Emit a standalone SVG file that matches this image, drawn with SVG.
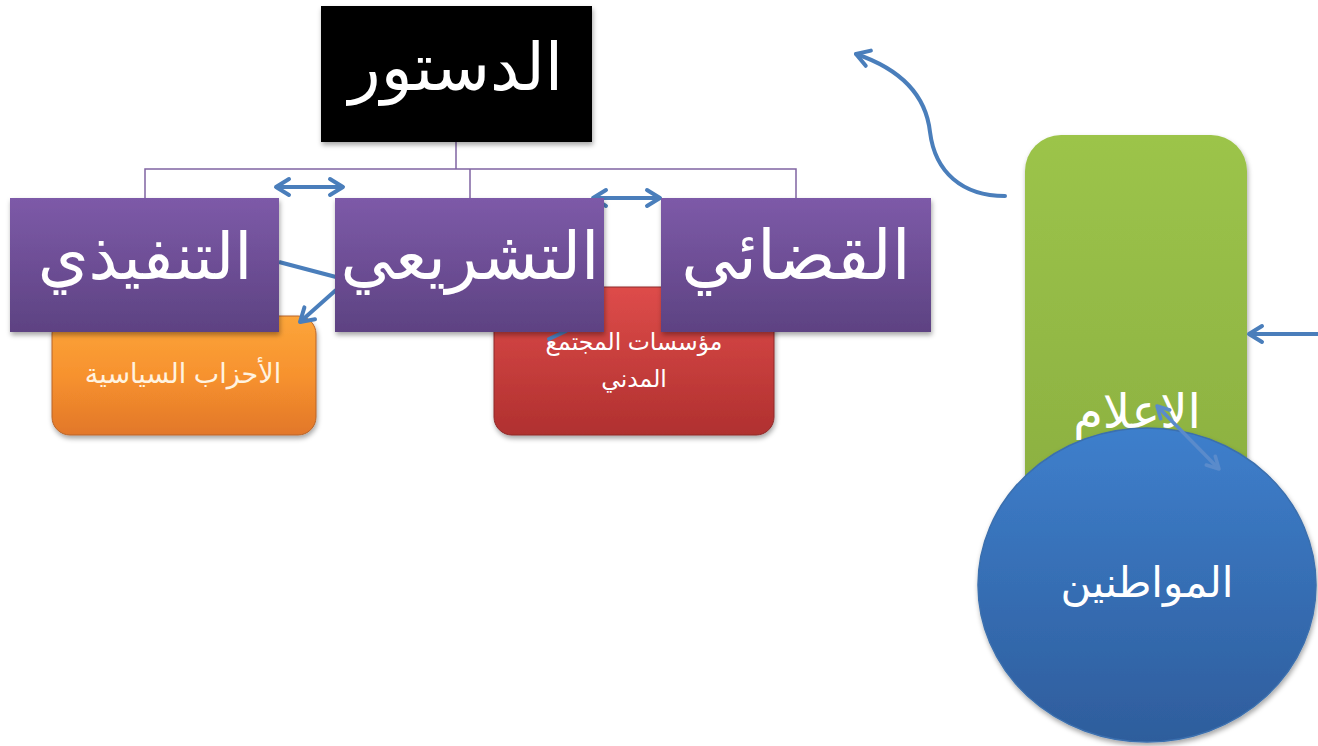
<svg xmlns="http://www.w3.org/2000/svg" width="1318" height="746" viewBox="0 0 1318 746">
<defs>
<linearGradient id="gPurple" x1="0" y1="0" x2="0" y2="1"><stop offset="0" stop-color="#7d5aa8"/><stop offset="1" stop-color="#5d4282"/></linearGradient>
<linearGradient id="gOrange" x1="0" y1="0" x2="0" y2="1"><stop offset="0" stop-color="#fca53a"/><stop offset="0.5" stop-color="#f7922e"/><stop offset="1" stop-color="#e2772a"/></linearGradient>
<linearGradient id="gRed" x1="0" y1="0" x2="0" y2="1"><stop offset="0" stop-color="#de4c4a"/><stop offset="1" stop-color="#b0302f"/></linearGradient>
<linearGradient id="gGreen" x1="0" y1="0" x2="0" y2="1"><stop offset="0" stop-color="#9cc44a"/><stop offset="1" stop-color="#8aae40"/></linearGradient>
<linearGradient id="gBlue" x1="0" y1="0" x2="0" y2="1"><stop offset="0" stop-color="#3e7fcc"/><stop offset="1" stop-color="#2e5d9c"/></linearGradient>
<filter id="sh" x="-10%" y="-10%" width="125%" height="130%"><feDropShadow dx="1" dy="3" stdDeviation="2.5" flood-color="#000" flood-opacity="0.35"/></filter>
<marker id="ah" viewBox="0 0 20 20" refX="17" refY="10" markerWidth="20" markerHeight="20" markerUnits="userSpaceOnUse" orient="auto-start-reverse" overflow="visible">
<path d="M4,2 L17,10 L4,18" fill="none" stroke="#4a7ebb" stroke-width="4" stroke-linecap="round" stroke-linejoin="round"/>
</marker>
<marker id="ahs" viewBox="0 0 20 20" refX="17" refY="10" markerWidth="18" markerHeight="18" markerUnits="userSpaceOnUse" orient="auto-start-reverse" overflow="visible">
<path d="M4,3 L17,10 L4,17" fill="none" stroke="#5a8bcb" stroke-width="4" stroke-linecap="round" stroke-linejoin="round"/>
</marker>
<style>
.tree{fill:none;stroke:#8064a2;stroke-width:1.5}
.arr{fill:none;stroke:#4a7ebb;stroke-width:4}
.big{font-family:"Liberation Sans","DejaVu Sans",sans-serif;fill:#fff;text-anchor:middle}
</style>
</defs>

<g id="connectors">
<path class="tree" d="M456,142 V169 M145,198 V169 H796 V198 M470,169 V198"/>
</g>

<g id="node-orange">
<rect x="52" y="316" width="264" height="119" rx="18" fill="url(#gOrange)" stroke="#b8652a" stroke-width="1" filter="url(#sh)"/>
<text class="big" x="183" y="383" font-size="27" style="fill:#fff3e0">الأحزاب السياسية</text>
</g>

<g id="node-red">
<rect x="494" y="287" width="280" height="148" rx="18" fill="url(#gRed)" stroke="#8e2a2a" stroke-width="1" filter="url(#sh)"/>
<text class="big" x="634" y="350" font-size="23.5">مؤسسات المجتمع</text>
<text class="big" x="634" y="387" font-size="23.5">المدني</text>
</g>

<g id="arrows-top">
<path class="arr" d="M276,187 H343" marker-start="url(#ah)" marker-end="url(#ah)"/>
<path class="arr" d="M593,198 H660" marker-start="url(#ah)" marker-end="url(#ah)"/>
<path class="arr" d="M279,262 L336,277"/>
<path class="arr" d="M336,290 L300,322" marker-end="url(#ah)"/>
<path class="arr" d="M549,339 L566,331" stroke-linecap="round"/>
</g>

<g id="node-dastour">
<rect x="321" y="6" width="271" height="136" fill="#000" filter="url(#sh)"/>
<text class="big" x="456" y="90" font-size="66">الدستور</text>
</g>

<g id="node-tanfidhi">
<rect x="10" y="198" width="269" height="134" fill="url(#gPurple)" filter="url(#sh)"/>
<text class="big" x="145" y="279" font-size="65">التنفيذي</text>
</g>

<g id="node-tashriei">
<rect x="335" y="198" width="269" height="134" fill="url(#gPurple)" filter="url(#sh)"/>
<text class="big" x="470" y="279" font-size="66">التشريعي</text>
</g>

<g id="node-qadai">
<rect x="661" y="198" width="270" height="134" fill="url(#gPurple)" filter="url(#sh)"/>
<text class="big" x="796" y="279" font-size="68">القضائي</text>
</g>

<g id="node-ilam">
<rect x="1025" y="135" width="222" height="400" rx="36" fill="url(#gGreen)" filter="url(#sh)"/>
<text class="big" x="1137" y="428" font-size="48">الاعلام</text>
</g>

<g id="node-muwatinin">
<ellipse cx="1147" cy="585" rx="169" ry="157" fill="url(#gBlue)" stroke="#3b6fae" stroke-width="1.5" filter="url(#sh)"/>
<text class="big" x="1147" y="597" font-size="42">المواطنين</text>
</g>

<g id="arrows-side">
<path class="arr" d="M1005,196 C962,196 935,172 930,132 C926,96 903,70 856,54" marker-end="url(#ah)" stroke-linecap="round"/>
<path class="arr" d="M1318,334 H1249" marker-end="url(#ah)"/>
<path d="M1157,406 L1219,469" marker-start="url(#ahs)" marker-end="url(#ahs)" style="fill:none;stroke:#5a8bcb;stroke-width:3.5"/>
</g>
</svg>
